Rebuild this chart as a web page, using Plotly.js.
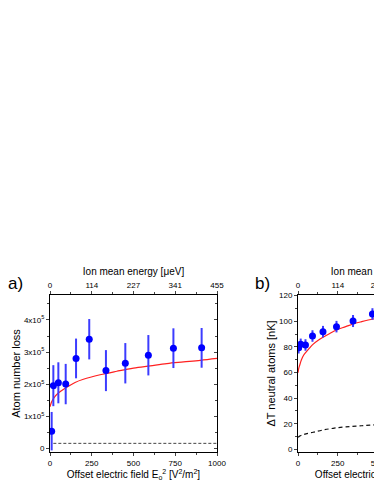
<!DOCTYPE html>
<html>
<head>
<meta charset="utf-8">
<script src="https://cdn.plot.ly/plotly-3.0.1.min.js"></script>
<style>
  html, body { margin: 0; padding: 0; background: #fff; overflow: hidden; }
  #chart { width: 560px; height: 484px; }
</style>
</head>
<body>
<div id="chart"></div>
<script>
// panel a) atom number loss vs offset field
const fieldA = [10, 20, 50, 94, 156, 235, 335, 451, 589, 739, 908];
const lossA = [53000, 195000, 204000, 200000, 280000, 340000, 242000, 265000, 290000, 312000, 313000];
const lossErrA = [60000, 64000, 64000, 63000, 62000, 63000, 64000, 63000, 63000, 62000, 62000];
const fitFieldA = [0, 10, 25, 50, 100, 150, 200, 300, 400, 500, 600, 700, 800, 900, 1000];
const fitLossA = [129000, 145000, 158000, 172000, 190000, 205000, 215000, 229000, 240000, 250000, 257000, 264000, 269000, 274000, 280000];
const baseFieldA = [20, 1000];
const baseLossA = [15000, 15000];

// panel b) temperature rise of the neutral atoms
const fieldB = [4, 17, 47, 91, 157, 242, 346, 468];
const tempB = [79.4, 82.0, 81.5, 88.5, 91.9, 95.8, 100.2, 105.7];
const tempErrB = [4.5, 4.5, 4.5, 4.5, 4.5, 4.5, 4.7, 4.5];
const fitFieldB = [0, 5, 10, 21, 35, 53, 75, 94, 125, 157, 200, 241, 300, 346, 400, 472, 500];
const fitTempB = [59.9, 63.5, 65.5, 69.8, 73.5, 76.3, 79.5, 82, 85, 87.5, 90.5, 93.2, 95.8, 97.9, 99.7, 101.8, 102.4];
const dashFieldB = [0, 10, 25, 50, 95, 150, 221, 300, 400, 500];
const dashTempB = [9.5, 10.4, 11.2, 12.2, 13.4, 15, 16.5, 17.6, 18.5, 19.3];

const fieldTicks = [0, 250, 500, 750, 1000];
const energyTicks = [0, 113.75, 227.5, 341.25, 455];
const energyLabels = ['0', '114', '227', '341', '455'];
const lossTicks = [0, 100000, 200000, 300000, 400000];
const lossLabels = ['0', '1x10<sup>5</sup>', '2x10<sup>5</sup>', '3x10<sup>5</sup>', '4x10<sup>5</sup>'];

const FONT = 'Liberation Sans, Arial, sans-serif';
const blue = '#0000ff';
const barBlue = '#3c3cff';

const data = [
  { x: baseFieldA, y: baseLossA, xaxis: 'x', yaxis: 'y', mode: 'lines',
    line: { color: '#444', width: 1, dash: '3px,2px' } },
  { x: fitFieldA, y: fitLossA, xaxis: 'x', yaxis: 'y', mode: 'lines',
    line: { color: '#ff2020', width: 1.2, shape: 'spline' } },
  { x: fieldA, y: lossA, xaxis: 'x', yaxis: 'y', mode: 'markers',
    marker: { color: blue, size: 7 },
    error_y: { type: 'data', array: lossErrA, color: barBlue, thickness: 2, width: 0 } },
  // helper trace for top / right axes of a)
  { x: [0], y: [0], xaxis: 'x3', yaxis: 'y3', mode: 'markers', marker: { opacity: 0 }, hoverinfo: 'skip' },

  { x: dashFieldB, y: dashTempB, xaxis: 'x2', yaxis: 'y2', mode: 'lines',
    line: { color: '#111', width: 1.2, dash: '4px,3px', shape: 'spline' } },
  { x: fitFieldB, y: fitTempB, xaxis: 'x2', yaxis: 'y2', mode: 'lines',
    line: { color: '#ff2020', width: 1.2, shape: 'spline' } },
  { x: fieldB, y: tempB, xaxis: 'x2', yaxis: 'y2', mode: 'markers',
    marker: { color: blue, size: 7 },
    error_y: { type: 'data', array: tempErrB, color: barBlue, thickness: 2, width: 0 } },
  { x: [0], y: [0], xaxis: 'x4', yaxis: 'y4', mode: 'markers', marker: { opacity: 0 }, hoverinfo: 'skip' }
];

const tickFont = { family: FONT, size: 8, color: '#000' };
const titleFont = { family: FONT, size: 10, color: '#000' };

const xTitle = 'Offset electric field E<sub>o</sub><sup>2</sup> [V<sup>2</sup>/m<sup>2</sup>]';
const topTitle = 'Ion mean energy [\u03bceV]';

function bottomAxis(domain, range) {
  return {
    domain: domain, range: range, tickvals: fieldTicks, ticks: 'outside', ticklen: 3,
    minor: { dtick: 125, ticklen: 2, ticks: 'outside' },
    showline: true, linecolor: '#000', linewidth: 1, showgrid: false, zeroline: false,
    tickfont: tickFont, title: { text: xTitle, font: titleFont, standoff: 4 }
  };
}

function topAxis(over, anchor, range) {
  return {
    overlaying: over, anchor: anchor, side: 'top', range: range,
    tickvals: energyTicks, ticktext: energyLabels, ticks: 'outside', ticklen: 3,
    minor: { tickvals: [56.9, 170.6, 284.4, 398.1], ticklen: 2, ticks: 'outside' },
    showline: true, linecolor: '#000', linewidth: 1, showgrid: false, zeroline: false,
    tickfont: tickFont, title: { text: topTitle, font: titleFont, standoff: 3 }
  };
}

const layout = {
  width: 560, height: 484,
  margin: { l: 50, r: 95, t: 295, b: 32 },
  paper_bgcolor: '#fff', plot_bgcolor: '#fff',
  showlegend: false,
  font: { family: FONT, color: '#000' },
  xaxis: bottomAxis([0, 0.4024], [0, 1000]),
  xaxis2: Object.assign(bottomAxis([0.5976, 1], [0, 1050]), { anchor: 'y2' }),
  xaxis3: topAxis('x', 'y3', [0, 455]),
  xaxis4: topAxis('x2', 'y4', [0, 477.75]),
  yaxis: {
    range: [-12000, 478000], tickvals: lossTicks, ticktext: lossLabels,
    ticks: 'outside', ticklen: 3, minor: { dtick: 50000, ticklen: 2, ticks: 'outside' },
    showline: true, linecolor: '#000', linewidth: 1, showgrid: false, zeroline: false,
    tickfont: tickFont,
    title: { text: 'Atom number loss', font: { family: FONT, size: 11, color: '#000' }, standoff: 1 }
  },
  yaxis3: {
    overlaying: 'y', anchor: 'x', side: 'right', range: [-12000, 478000],
    tickvals: lossTicks, showticklabels: false, ticks: 'inside', ticklen: 3,
    minor: { dtick: 50000, ticklen: 2, ticks: 'inside' },
    showline: true, linecolor: '#000', linewidth: 1, showgrid: false, zeroline: false
  },
  yaxis2: {
    anchor: 'x2', range: [-2, 120.5], dtick: 20, tick0: 0,
    ticks: 'outside', ticklen: 3, minor: { dtick: 10, ticklen: 2, ticks: 'outside' },
    showline: true, linecolor: '#000', linewidth: 1, showgrid: false, zeroline: false,
    tickfont: tickFont,
    title: { text: '\u0394T neutral atoms [nK]', font: { family: FONT, size: 11, color: '#000' }, standoff: 1 }
  },
  yaxis4: {
    overlaying: 'y2', anchor: 'x2', side: 'right', range: [-2, 120.5], dtick: 20, tick0: 0,
    showticklabels: false, ticks: 'inside', ticklen: 3,
    showline: true, linecolor: '#000', linewidth: 1, showgrid: false, zeroline: false
  },
  annotations: [
    { text: 'a)', xref: 'paper', yref: 'paper', x: -0.084, y: 1.076, showarrow: false,
      font: { family: FONT, size: 17, color: '#000' }, xanchor: 'center', yanchor: 'middle' },
    { text: 'b)', xref: 'paper', yref: 'paper', x: 0.512, y: 1.076, showarrow: false,
      font: { family: FONT, size: 17, color: '#000' }, xanchor: 'center', yanchor: 'middle' }
  ]
};

Plotly.newPlot('chart', data, layout, { staticPlot: true });
</script>
</body>
</html>
